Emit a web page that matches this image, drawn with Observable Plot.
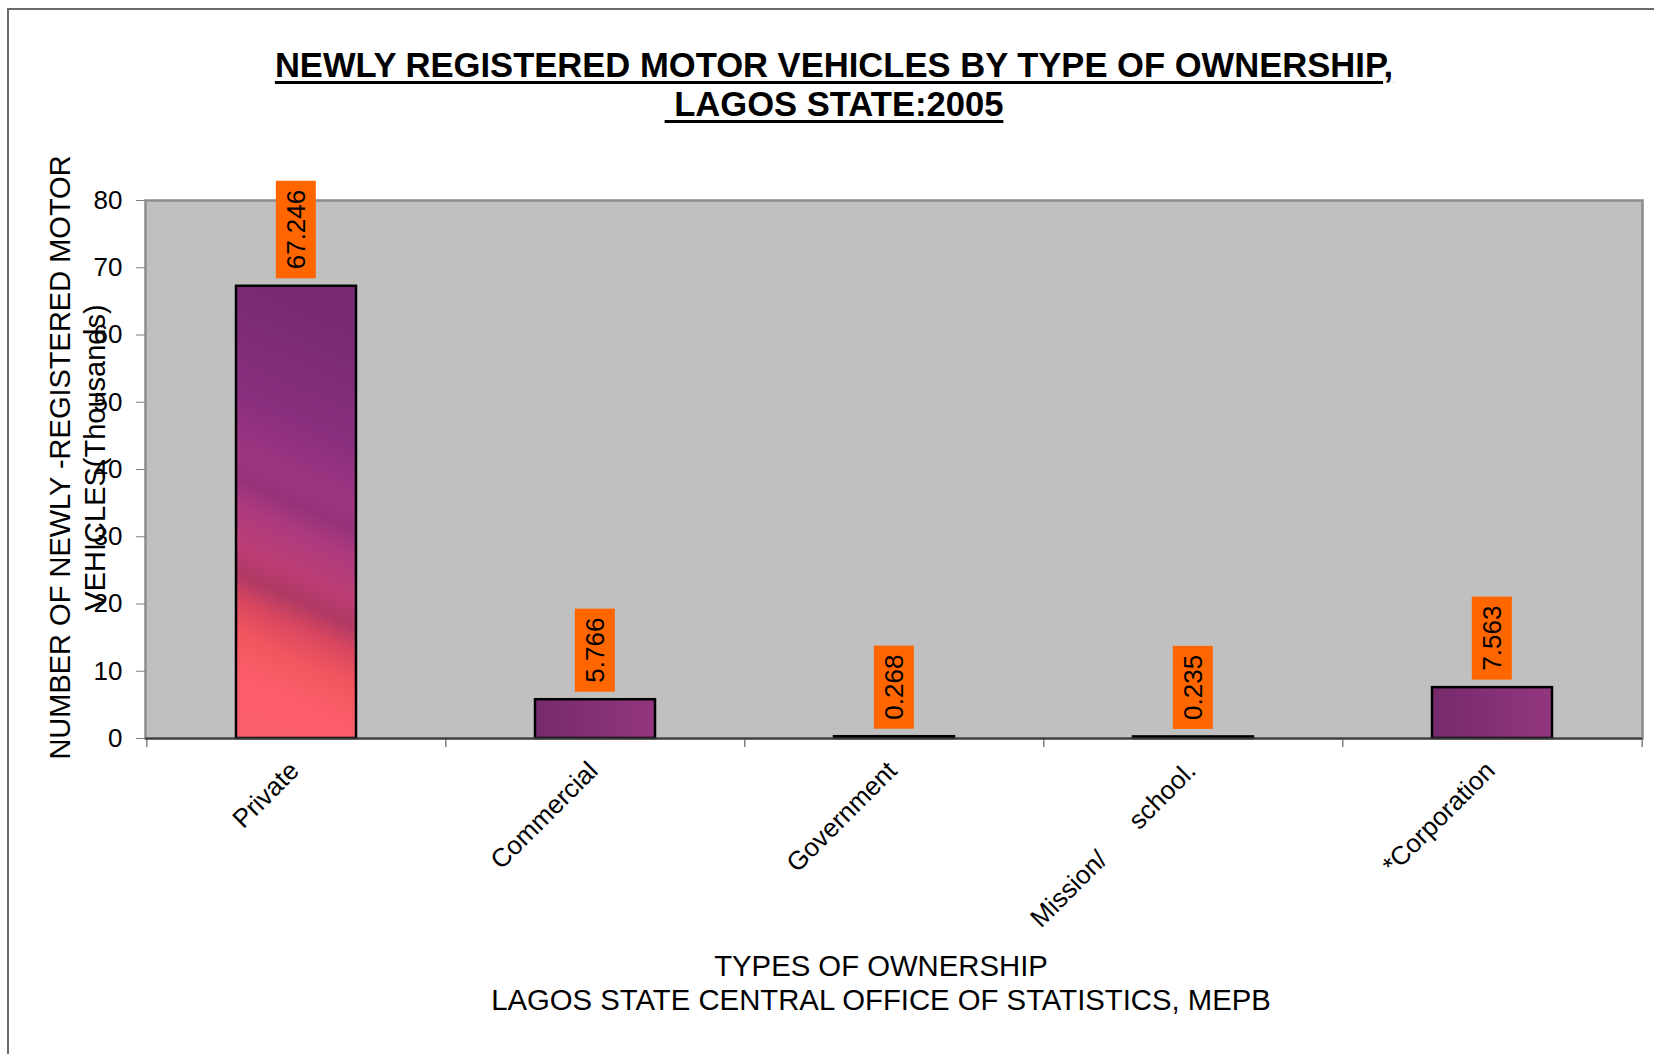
<!DOCTYPE html>
<html>
<head>
<meta charset="utf-8">
<script src="https://cdn.jsdelivr.net/npm/d3@7"></script>
<script src="https://cdn.jsdelivr.net/npm/@observablehq/plot@0.6"></script>
<style>
  html, body { margin: 0; padding: 0; background: #fff; }
  body { width: 1654px; height: 1054px; position: relative; overflow: hidden; font-family: "Liberation Sans", Arial, sans-serif; }
  #frame { position: absolute; left: 7px; top: 8px; width: 1700px; height: 1100px; border-top: 2px solid #6a6a6a; border-left: 2px solid #6a6a6a; pointer-events: none; }
  #title { position: relative; height: 140px; width: 1654px; }
  #title div { position: absolute; left: 0; width: 1668px; text-align: center; font-weight: bold; font-size: 34.6px; line-height: 34px; color: #000;
    text-decoration: underline; text-decoration-thickness: 3px; text-underline-offset: 4px; white-space: pre; }
  #chart svg { display: block; }
</style>
</head>
<body>
<div id="frame"></div>
<div id="title">
  <div id="t1" style="top:48px">NEWLY REGISTERED MOTOR VEHICLES BY TYPE OF OWNERSHIP,</div>
  <div id="t2" style="top:87px"> LAGOS STATE:2005</div>
</div>
<div id="chart"></div>
<script>
// ---- data ----
const categories = ["Private", "Commercial", "Government", "Mission/ school.", "*Corporation"];
const tickLabels = ["Private", "Commercial", "Government", "Mission/\u00a0\u00a0\u00a0\u00a0\u00a0\u00a0school.", "*Corporation"];
const values = [67.246, 5.766, 0.268, 0.235, 7.563];
const yTicks = [0, 10, 20, 30, 40, 50, 60, 70, 80];
const yTitleLines = ["NUMBER OF NEWLY -REGISTERED MOTOR", "VEHICLES(Thousands)"];
const xTitleLines = ["TYPES OF OWNERSHIP", "LAGOS STATE CENTRAL OFFICE OF STATISTICS, MEPB"];

const table = categories.map((c, i) => ({category: c, tick: tickLabels[i], value: values[i], label: d3.format(".3f")(values[i])}));

// ---- layout ----
const W = 1654, H = 914;
const mL = 145, mR = 12, mT = 60, mB = 316;
const step = (W - mL - mR) / categories.length;
const font = "'Liberation Sans', Arial, sans-serif";

const svg = Plot.plot({
  width: W, height: H,
  marginLeft: mL, marginRight: mR, marginTop: mT, marginBottom: mB,
  style: {fontFamily: font, fontSize: "26px", color: "#000", background: "transparent", overflow: "visible"},
  x: {type: "band", domain: categories, paddingInner: 0.6, paddingOuter: 0.3, axis: null},
  y: {domain: [0, 80], axis: null},
  marks: [
    Plot.frame({fill: "#c0c0c0", stroke: "#8c8c8c", strokeWidth: 2.5}),
    Plot.axisY({ticks: yTicks, tickSize: 9, tickPadding: 14, stroke: "#808080", fill: "#000", fontSize: 26, label: null}),
    // category boundary ticks
    Plot.ruleX(table, {x: "category", y1: 0, y2: 0, insetBottom: -9, dx: -step / 2, stroke: "#808080", strokeWidth: 1.5}),
    Plot.ruleX(table.slice(-1), {x: "category", y1: 0, y2: 0, insetBottom: -9, dx: step / 2, stroke: "#808080", strokeWidth: 1.5}),
    // bars
    Plot.barY(table, {filter: d => d.category === "Private", x: "category", y: "value", fill: "url(#sunset)", stroke: "#000", strokeWidth: 2.5}),
    Plot.barY(table, {filter: d => d.category !== "Private", x: "category", y: "value", fill: "url(#plum)", stroke: "#000", strokeWidth: 2.5}),
    Plot.ruleY([0], {stroke: "#3a3a3a", strokeWidth: 2}),
    // value labels
    Plot.text(table, {x: "category", y: "value", text: "label", rotate: -90, textAnchor: "start", lineAnchor: "middle", dy: -17, fontSize: 26, fill: "#000"}),
    // x tick labels
    Plot.text(table, {x: "category", text: "tick", frameAnchor: "bottom", rotate: -45, textAnchor: "end", lineAnchor: "middle", dx: -2, dy: 28, fontSize: 26, fill: "#000"}),
    // y axis title
    Plot.text([yTitleLines[0]], {text: d => d, frameAnchor: "left", rotate: -90, textAnchor: "middle", lineAnchor: "middle", dx: -85, dy: -12, fontSize: 29, fill: "#000"}),
    Plot.text([yTitleLines[1]], {text: d => d, frameAnchor: "left", rotate: -90, textAnchor: "middle", lineAnchor: "middle", dx: -50, dy: -12, fontSize: 29, fill: "#000"}),
    // x axis title
    Plot.text([xTitleLines[0]], {text: d => d, frameAnchor: "bottom", textAnchor: "middle", lineAnchor: "bottom", dx: -13, dy: 237, fontSize: 29.3, fill: "#000"}),
    Plot.text([xTitleLines[1]], {text: d => d, frameAnchor: "bottom", textAnchor: "middle", lineAnchor: "bottom", dx: -13, dy: 271, fontSize: 29.3, fill: "#000"})
  ]
});

document.getElementById("chart").appendChild(svg);

// gradients for the picture-filled bars
const defs = d3.select(svg).insert("defs", ":first-child");
const sunset = defs.append("linearGradient").attr("id", "sunset").attr("x1", 0.12).attr("y1", 0).attr("x2", 0).attr("y2", 1);
[[0, "#772a72"], [0.25, "#8a2f7d"], [0.38, "#9e3581"], [0.43, "#95327a"], [0.49, "#ad3a7e"], [0.58, "#bb3d74"],
 [0.64, "#b03964"], [0.7, "#da475f"], [0.77, "#f1565f"], [0.86, "#fb5e68"], [1, "#fc606e"]]
  .forEach(([o, c]) => sunset.append("stop").attr("offset", o).attr("stop-color", c));
const plum = defs.append("linearGradient").attr("id", "plum").attr("x1", 0).attr("y1", 0).attr("x2", 1).attr("y2", 0);
[[0, "#762a6c"], [1, "#93367f"]].forEach(([o, c]) => plum.append("stop").attr("offset", o).attr("stop-color", c));

// orange boxes behind the value labels
const labelSet = new Set(table.map(d => d.label));
svg.querySelectorAll("text").forEach(function (t) {
  if (!labelSet.has(t.textContent)) return;
  const b = t.getBBox();
  const padA = 9, padC = 5;
  const rect = document.createElementNS("http://www.w3.org/2000/svg", "rect");
  rect.setAttribute("x", b.x - padA);
  rect.setAttribute("y", b.y - padC);
  rect.setAttribute("width", b.width + 2 * padA);
  rect.setAttribute("height", b.height + 2 * padC);
  rect.setAttribute("fill", "#ff6600");
  rect.setAttribute("stroke", "none");
  const tr = t.getAttribute("transform");
  if (tr) rect.setAttribute("transform", tr);
  t.parentNode.insertBefore(rect, t);
});
</script>
</body>
</html>
